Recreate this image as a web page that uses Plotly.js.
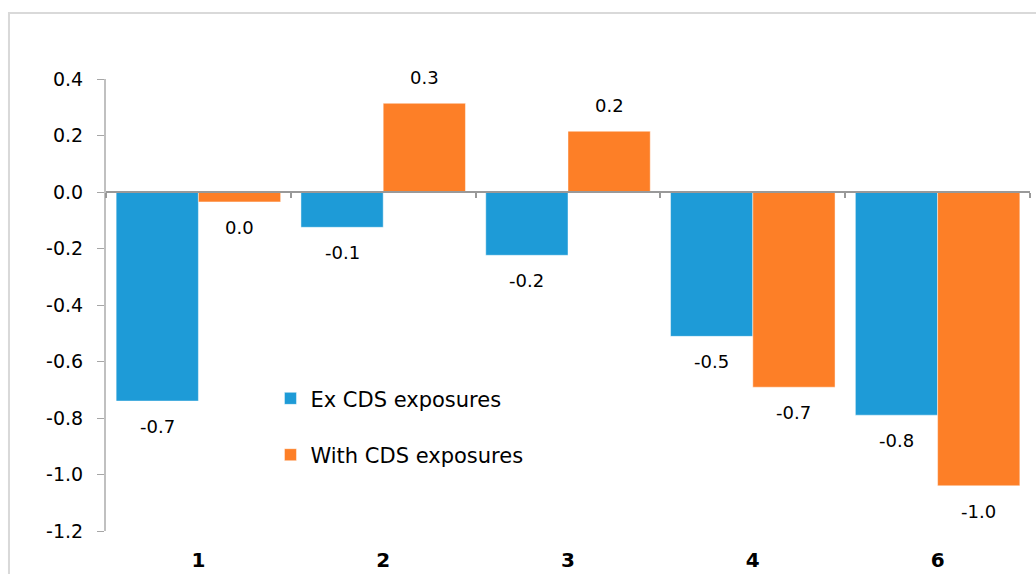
<!DOCTYPE html>
<html>
<head>
<meta charset="utf-8">
<script src="https://cdn.plot.ly/plotly-3.0.1.min.js"></script>
<style>
  html, body { margin: 0; padding: 0; background: #fff; }
  #chart { width: 1036px; height: 574px; }
</style>
</head>
<body>
<div id="chart"></div>
<script>
// ---- data ----
const categories = ["1", "2", "3", "4", "6"];
const exCDS = [-0.74, -0.125, -0.224, -0.511, -0.79];
const withCDS = [-0.035, 0.314, 0.215, -0.691, -1.04];
const seriesNames = ["Ex CDS exposures", "With CDS exposures"];
const yTickVals = [0.4, 0.2, 0.0, -0.2, -0.4, -0.6, -0.8, -1.0, -1.2];
const yTickText = ["0.4", "0.2", "0.0", "-0.2", "-0.4", "-0.6", "-0.8", "-1.0", "-1.2"];

// ---- style ----
const FONT = "DejaVu Sans";
const colors = ["#1e9bd7", "#fd7f27"];
const bargap = 0.11;

function fmt(v) {
  let s = v.toFixed(1);
  if (s === "-0.0") s = "0.0";
  return s.replace("\u2212", "-");
}

const seriesVals = [exCDS, withCDS];
const traces = seriesVals.map((vals, s) => ({
  type: "bar",
  name: seriesNames[s],
  x: categories,
  y: vals,
  legendgroup: "g" + s,
  marker: { color: colors[s], line: { color: "rgba(255,255,255,0.45)", width: 1 } },
  hoverinfo: "x+y+name"
}));

const annotations = [];
seriesVals.forEach((vals, s) => {
  const off = (s === 0 ? -1 : 1) * (1 - bargap) / 4;
  vals.forEach((v, i) => {
    annotations.push({
      x: i + off, y: v, xref: "x", yref: "y",
      text: fmt(v), showarrow: false,
      yanchor: v >= 0 ? "bottom" : "top",
      yshift: v >= 0 ? 13 : -13,
      font: { family: FONT, size: 18, color: "#000" }
    });
  });
});

const boundaries = categories.map((_, i) => i - 0.5).concat([categories.length - 0.5]);

const layout = {
  width: 1036, height: 574,
  margin: { l: 106, r: 6, t: 79, b: 43 },
  paper_bgcolor: "#fff", plot_bgcolor: "rgba(0,0,0,0)",
  barmode: "group", bargap: bargap, bargroupgap: 0,
  showlegend: true,
  legend: {
    x: 0.178, y: 0.338, xanchor: "left", yanchor: "top",
    bgcolor: "rgba(0,0,0,0)",
    font: { family: FONT, size: 21, color: "#000" },
    tracegroupgap: 26
  },
  xaxis: {
    type: "category", categoryarray: categories, categoryorder: "array",
    range: [-0.5, categories.length - 0.5],
    showline: false, ticks: "", showgrid: false, zeroline: false,
    tickfont: { family: FONT, size: 20, color: "#000", weight: "bold" },
    ticklabelstandoff: 15
  },
  xaxis2: {
    overlaying: "x", anchor: "free", position: 0.75,
    range: [-0.5, categories.length - 0.5],
    showline: true, linecolor: "#999", linewidth: 2,
    ticks: "outside", ticklen: 5, tickwidth: 2, tickcolor: "#999",
    tickvals: boundaries, showticklabels: false, showgrid: false, zeroline: false
  },
  yaxis: {
    range: [-1.2, 0.4],
    tickvals: yTickVals, ticktext: yTickText,
    showline: true, linecolor: "#c0c0c0", linewidth: 2,
    ticks: "outside", ticklen: 7, tickwidth: 1, tickcolor: "#a6a6a6",
    showgrid: false, zeroline: false,
    tickfont: { family: FONT, size: 19, color: "#000" },
    ticklabelstandoff: 10
  },
  annotations: annotations,
  shapes: [{
    type: "rect", xref: "paper", yref: "paper",
    x0: -0.105, x1: 1.2, y0: -0.3, y1: 1.146,
    line: { color: "#d9d9d9", width: 2 }, fillcolor: "rgba(0,0,0,0)", layer: "below"
  }]
};

// dummy trace to activate xaxis2
traces.push({ type: "scatter", x: [0], y: [0], xaxis: "x2", yaxis: "y", mode: "markers",
  marker: { opacity: 0 }, showlegend: false, hoverinfo: "skip" });

Plotly.newPlot("chart", traces, layout, { displayModeBar: false, staticPlot: true });
</script>
</body>
</html>
